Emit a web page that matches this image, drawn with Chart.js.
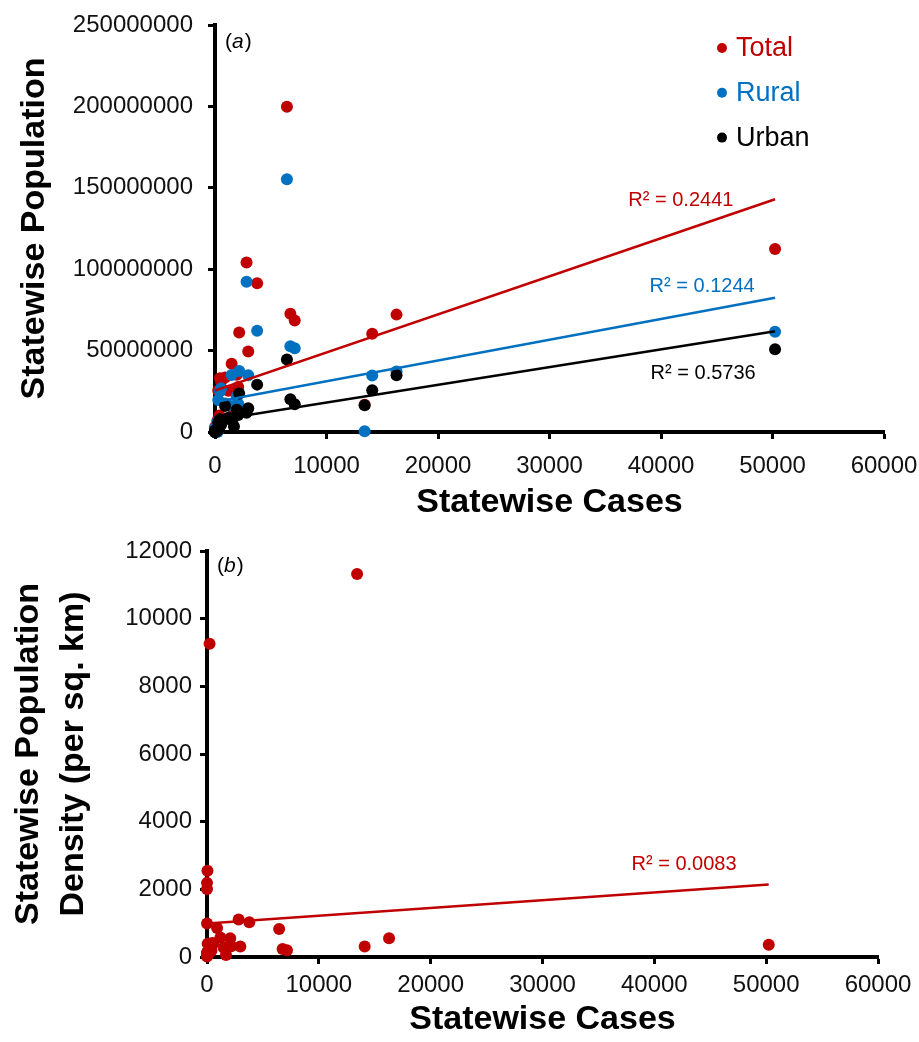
<!DOCTYPE html>
<html>
<head>
<meta charset="utf-8">
<title>Statewise cases vs population</title>
<script src="https://cdn.jsdelivr.net/npm/chart.js@4.4.1/dist/chart.umd.min.js"></script>
<style>
  html, body { margin: 0; padding: 0; background: #fff; }
  .wrap { position: relative; width: 919px; height: 1042px; }
  canvas { position: absolute; left: 0; }
  #chartA { top: 0; }
  #chartB { top: 520px; }
</style>
</head>
<body>
<div class="wrap">
  <canvas id="chartA" width="919" height="520"></canvas>
  <canvas id="chartB" width="919" height="522"></canvas>
</div>
<script>
// one entry per state / UT, same order in every array
const cases = [50230, 16280, 14100, 13420, 7150, 6760, 6450, 3780, 2980, 2830, 2170, 2080,
  1950, 1700, 1490, 1200, 900, 550, 450, 400, 290, 220, 230, 190, 60, 40, 40, 15, 10, 1, 1, 1,
  33, 2, 2, 0];
const totalPop = [112400000, 72100000, 60400000, 16800000, 68500000, 72600000, 199800000,
  91300000, 49400000, 104100000, 61100000, 27700000, 35200000, 12500000, 41900000, 25400000,
  33400000, 31200000, 33000000, 10100000, 25500000, 6900000, 1100000, 3700000, 1500000,
  2900000, 1200000, 3000000, 2000000, 1400000, 1100000, 600000, 400000, 300000, 200000, 100000];
const ruralPop = [61600000, 37200000, 34700000, 400000, 51500000, 52600000, 155300000,
  62200000, 34800000, 92300000, 37500000, 17300000, 21600000, 9100000, 35000000, 16500000,
  17500000, 26800000, 25000000, 7000000, 19600000, 6200000, 30000, 2700000, 550000,
  1900000, 400000, 2400000, 1400000, 1070000, 530000, 460000, 240000, 180000, 60000, 14000];
const urbanPop = [50800000, 34900000, 25700000, 16400000, 17000000, 20100000, 44500000,
  29100000, 14600000, 11800000, 23600000, 10400000, 13600000, 3400000, 7000000, 8800000,
  15900000, 4400000, 7900000, 3000000, 5900000, 700000, 1030000, 960000, 910000, 830000,
  850000, 600000, 570000, 310000, 570000, 150000, 140000, 160000, 180000, 50000];
const density = [365, 555, 308, 11320, 200, 236, 829, 1028, 308, 1106, 319, 551, 307, 56,
  270, 573, 860, 398, 414, 189, 189, 123, 9258, 350, 394, 128, 2547, 132, 119, 17, 52, 86,
  46, 990, 2191, 2013];

// trend line end points
const trendCases = [0, 50230];
const trendTotal = [25400000, 143000000];
const trendRural = [18400000, 82400000];
const trendUrban = [7200000, 61900000];
const trendDensity = [990, 2140];

const r2Labels = ['R² = 0.2441', 'R² = 0.1244', 'R² = 0.5736'];
const r2Density = 'R² = 0.0083';

const RED = '#C00000';
const BLUE = '#0070C0';
const BLACK = '#000000';
const FONT = "'Liberation Sans', Arial, sans-serif";

function points(xs, ys) {
  return xs.map((x, i) => ({x: x, y: ys[i]}));
}

function scatterSet(label, ys, color, order) {
  return {
    legendText: label,
    data: points(cases, ys),
    backgroundColor: color,
    borderColor: color,
    pointRadius: 6,
    pointBorderWidth: 0,
    clip: false,
    order: order,
  };
}

function trendSet(ys, color) {
  return {
    data: points(trendCases, ys),
    showLine: true,
    borderColor: color,
    borderWidth: 2.5,
    pointRadius: 0,
    order: 0,
  };
}

function axis(min, max, step, title, fit) {
  return {
    type: 'linear',
    min: min,
    max: max,
    ticks: {
      stepSize: step,
      color: '#111',
      padding: fit.tickPad,
      font: {family: FONT, size: 24},
      callback: v => String(v),
    },
    grid: {drawOnChartArea: false, drawTicks: true, tickLength: 7, tickWidth: 3, tickColor: '#000'},
    border: {display: true, width: 4, color: '#000'},
    title: {
      display: true,
      text: title,
      color: '#000',
      font: {family: FONT, size: 34, weight: 'bold', lineHeight: fit.lineHeight || 1},
      padding: fit.titlePad,
    },
    afterFit: s => {
      // the layout padding alone decides where the plot area sits
      s.paddingLeft = s.paddingRight = s.paddingTop = s.paddingBottom = 0;
      if (fit.width) s.width = fit.width;
      if (fit.height) s.height = fit.height;
    },
  };
}

// legend of coloured dots drawn inside the plot
const dotLegend = {
  id: 'dotLegend',
  afterDraw(chart, args, opts) {
    if (!opts.display) return;
    const ctx = chart.ctx;
    const items = chart.data.datasets.filter(d => d.legendText);
    ctx.save();
    ctx.font = opts.font;
    ctx.textBaseline = 'middle';
    items.forEach((d, i) => {
      const y = opts.y + i * opts.gap;
      ctx.fillStyle = d.backgroundColor;
      ctx.beginPath();
      ctx.arc(opts.x, y, opts.radius, 0, Math.PI * 2);
      ctx.fill();
      ctx.fillText(d.legendText, opts.x + opts.textGap, y + 1);
    });
    ctx.restore();
  }
};

// R² notes at data coordinates plus the (a)/(b) panel tag
const notes = {
  id: 'notes',
  afterDatasetsDraw(chart, args, opts) {
    const {ctx, chartArea} = chart;
    const xs = chart.scales.x, ys = chart.scales.y;
    ctx.save();
    ctx.textBaseline = 'middle';
    ctx.textAlign = 'center';
    ctx.font = '20px ' + FONT;
    (opts.items || []).forEach(n => {
      ctx.fillStyle = n.color;
      ctx.fillText(n.text, xs.getPixelForValue(n.x), ys.getPixelForValue(n.y));
    });
    if (opts.tag) {
      let x = chartArea.left + 10;
      const y = chartArea.top + opts.tagDy;
      ctx.textAlign = 'left';
      ctx.fillStyle = '#000';
      ctx.font = '21px ' + FONT;
      ctx.fillText('(', x, y);
      x += ctx.measureText('(').width;
      ctx.font = 'italic 21px ' + FONT;
      ctx.fillText(opts.tag, x, y);
      x += ctx.measureText(opts.tag).width + 1;
      ctx.font = '21px ' + FONT;
      ctx.fillText(')', x, y);
    }
    ctx.restore();
  }
};

function baseOptions() {
  return {
    responsive: false,
    animation: false,
    events: [],
    plugins: {legend: {display: false}, tooltip: {enabled: false}},
  };
}

function createChartA() {
  const ctx = document.getElementById('chartA').getContext('2d');
  const options = baseOptions();
  options.layout = {padding: {top: 25, right: 35, bottom: 0, left: 0}};
  options.scales = {
    x: axis(0, 60000, 10000, 'Statewise Cases', {height: 88, tickPad: 13, titlePad: {top: 0, bottom: 0}}),
    y: axis(0, 250000000, 50000000, 'Statewise Population', {width: 215, tickPad: 15, titlePad: {top: 18, bottom: 0}}),
  };
  options.plugins.dotLegend = {display: true, x: 722, y: 48, gap: 44.8, radius: 5, textGap: 14,
    font: '27px ' + FONT};
  options.plugins.notes = {
    tag: 'a', tagDy: 17,
    items: [
      {text: r2Labels[0], x: 41780, y: 142400000, color: RED},
      {text: r2Labels[1], x: 43690, y: 89100000, color: BLUE},
      {text: r2Labels[2], x: 43780, y: 35900000, color: BLACK},
    ],
  };
  return new Chart(ctx, {
    type: 'scatter',
    data: {
      datasets: [
        scatterSet('Total', totalPop, RED, 3),
        scatterSet('Rural', ruralPop, BLUE, 2),
        scatterSet('Urban', urbanPop, BLACK, 1),
        trendSet(trendTotal, RED),
        trendSet(trendRural, BLUE),
        trendSet(trendUrban, BLACK),
      ]
    },
    options: options,
    plugins: [dotLegend, notes],
  });
}

function createChartB() {
  const ctx = document.getElementById('chartB').getContext('2d');
  const options = baseOptions();
  options.layout = {padding: {top: 31, right: 41, bottom: 0, left: 0}};
  options.scales = {
    x: axis(0, 60000, 10000, 'Statewise Cases', {height: 85, tickPad: 7, titlePad: {top: 0, bottom: 5}}),
    y: axis(0, 12000, 2000, ['Statewise Population', 'Density (per sq. km)'],
      {width: 207, tickPad: 8, lineHeight: 1.3, titlePad: {top: 7, bottom: 0}}),
  };
  options.plugins.notes = {
    tag: 'b', tagDy: 15,
    items: [{text: r2Density, x: 42660, y: 2720, color: RED}],
  };
  const dens = scatterSet(null, density, RED, 1);
  return new Chart(ctx, {
    type: 'scatter',
    data: {datasets: [dens, trendSet(trendDensity, RED)]},
    options: options,
    plugins: [notes],
  });
}

document.addEventListener('DOMContentLoaded', () => {
  createChartA();
  createChartB();
});
</script>
</body>
</html>
